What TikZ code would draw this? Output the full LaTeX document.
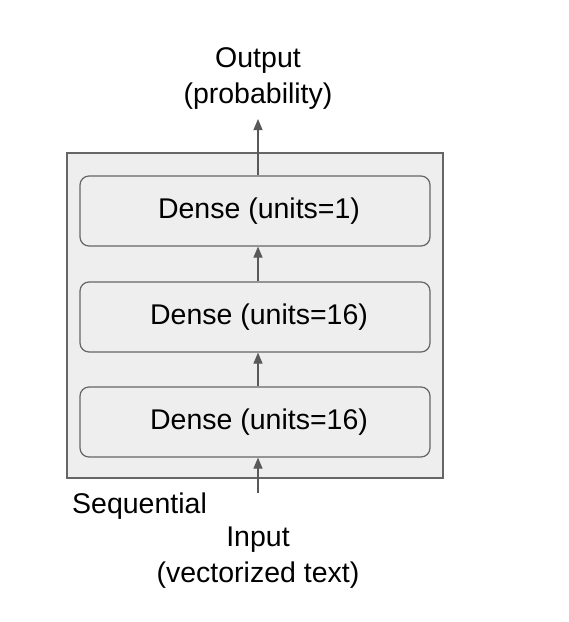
\documentclass[tikz,border=0pt]{standalone}
\usepackage{fontspec}
\setmainfont{Liberation Sans}
\usetikzlibrary{arrows.meta}
\definecolor{boxfill}{HTML}{EEEEEE}
\definecolor{boxline}{HTML}{666666}
\definecolor{arrowc}{HTML}{595959}
\begin{document}
\begin{tikzpicture}[x=1pt,y=-1pt,
  layer/.style={draw=boxline, fill=boxfill, line width=1.2pt, rounded corners=9pt,
    minimum width=350pt, minimum height=70pt, inner sep=0pt,
    font=\fontsize{28.5}{34}\selectfont},
  label/.style={font=\fontsize{28.5}{36}\selectfont, align=center, inner sep=0pt},
  flow/.style={draw=arrowc, line width=1.2pt, -{Triangle[length=11pt,width=9pt]}}]
  \useasboundingbox (0,0) rectangle (569,622);
  % Sequential container
  \node[draw=boxline, fill=boxfill, line width=1.5pt, minimum width=376pt,
        minimum height=325pt, inner sep=0pt] (seq) at (255,315.5) {};
  \node[font=\fontsize{28.5}{34}\selectfont, anchor=west, inner sep=0pt] (seqlbl) at (72,506) {Sequential};
  % Layers (labels sit slightly right of centre)
  \node[layer] (d1) at (255,211) {\hspace*{8pt}Dense (units=1)};
  \node[layer] (d2) at (255,317) {\hspace*{8pt}Dense (units=16)};
  \node[layer] (d3) at (255,422) {\hspace*{8pt}Dense (units=16)};
  % Input and output labels
  \node[label] (out) at (258,79) {Output\\(probability)};
  \node[label] (in) at (258,558) {Input\\(vectorized text)};
  \coordinate (outtip) at (258,119);
  \coordinate (inbase) at (258,493);
  % Connectors
  \draw[flow] (inbase) -- (d3.south -| inbase);
  \draw[flow] (d3.north -| inbase) -- (d2.south -| inbase);
  \draw[flow] (d2.north -| inbase) -- (d1.south -| inbase);
  \draw[flow] (d1.north -| inbase) -- (outtip);
\end{tikzpicture}
\end{document}
